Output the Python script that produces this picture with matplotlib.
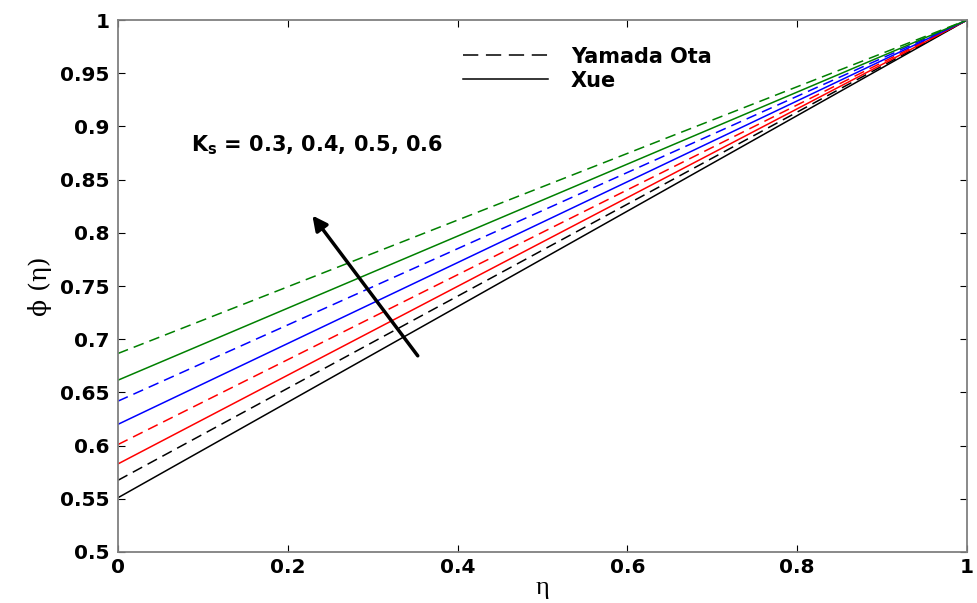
import matplotlib.pyplot as plt
from matplotlib.lines import Line2D

#### Data ####
eta = [0.0, 1.0]
Ks = [0.3, 0.4, 0.5, 0.6]
colors = ["black", "red", "blue", "#008000"]
phi_yamada = [[0.5674, 1.0], [0.601, 1.0], [0.6418, 1.0], [0.6866, 1.0]]   # dashed
phi_xue = [[0.551, 1.0], [0.5828, 1.0], [0.620, 1.0], [0.6615, 1.0]]      # solid

yticks = [0.5, 0.55, 0.6, 0.65, 0.7, 0.75, 0.8, 0.85, 0.9, 0.95, 1]
ytick_labels = ["0.5", "0.55", "0.6", "0.65", "0.7", "0.75", "0.8", "0.85", "0.9", "0.95", "1"]
xticks = [0, 0.2, 0.4, 0.6, 0.8, 1]
xtick_labels = ["0", "0.2", "0.4", "0.6", "0.8", "1"]

plt.rcParams["font.family"] = ["DejaVu Sans"]

#### Figure ####
fig = plt.figure(figsize=(9.77, 6.03), dpi=100)
ax = fig.add_axes([0.1208, 0.0846, 0.869, 0.8822])

for c, yd, yx in zip(colors, phi_yamada, phi_xue):
    ax.plot(eta, yd, color=c, lw=1.1, dashes=(7, 4))
    ax.plot(eta, yx, color=c, lw=1.1)

ax.set_xlim(0, 1); ax.set_ylim(0.5, 1)
ax.set_xticks(xticks); ax.set_xticklabels(xtick_labels, fontsize=14.5, fontweight="bold")
ax.set_yticks(yticks); ax.set_yticklabels(ytick_labels, fontsize=14.5, fontweight="bold")
ax.tick_params(direction="in", top=True, right=True, length=5, width=0.8, color="black")
ax.tick_params(axis="y", pad=6); ax.tick_params(axis="x", pad=4)
for s in ax.spines.values():
    s.set_color("#808080"); s.set_linewidth(1.3)

ax.set_xlabel("η", fontsize=19, family="Liberation Serif", labelpad=0)
ax.set_ylabel("ϕ (η)", fontsize=18, family="DejaVu Serif", labelpad=6)

#### Legend ####
handles = [Line2D([], [], color="black", lw=1.1, dashes=(10, 5)),
           Line2D([], [], color="black", lw=1.1)]
ax.legend(handles, ["Yamada Ota", "Xue"], loc="upper left", bbox_to_anchor=(0.406, 0.950),
          frameon=False, handlelength=4.1, handletextpad=1.1, labelspacing=0.2,
          borderpad=0, borderaxespad=0, prop={"size": 15, "weight": "bold"})

#### Annotation ####
ax.text(0.086, 0.8825, "K$_\\mathbf{s}$ = 0.3, 0.4, 0.5, 0.6", fontsize=15,
        fontweight="bold", va="center")
ax.annotate("", xy=(0.227, 0.8183), xytext=(0.355, 0.6823),
            arrowprops=dict(arrowstyle="-|>", color="black", lw=2.5, mutation_scale=22))

fig.savefig("out.png", dpi=100)
